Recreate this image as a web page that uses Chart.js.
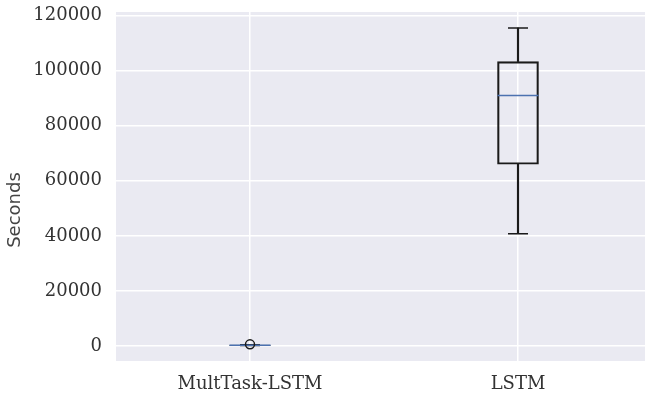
<!DOCTYPE html>
<html>
<head>
<meta charset="utf-8">
<script src="https://cdn.jsdelivr.net/npm/chart.js@4/dist/chart.umd.min.js"></script>
<style>
  html, body { margin: 0; padding: 0; background: #ffffff; overflow: hidden; }
  #c { display: block; }
</style>
</head>
<body>
<canvas id="c" width="652" height="399"></canvas>
<script>
// ---- data ----
const categories = ['MultTask-LSTM', 'LSTM'];
const whiskerLow  = [150, 40800];
const q1          = [200, 66000];
const median      = [260, 91000];
const q3          = [330, 103300];
const whiskerHigh = [420, 115500];
const outlierCats   = ['MultTask-LSTM'];
const outlierValues = [600];
const yTicks = [0, 20000, 40000, 60000, 80000, 100000, 120000];
const yTitle = 'Seconds';

const BOX_W = 41, CAP_R = 10;

const bgPlugin = {
  id: 'plotBg',
  beforeDraw(chart) {
    const a = chart.chartArea, ctx = chart.ctx;
    ctx.save();
    ctx.fillStyle = '#EAEAF2';
    ctx.fillRect(a.left, a.top, a.right - a.left, a.bottom - a.top);
    ctx.restore();
  }
};

// y-axis title, placed slightly below the axis centre as in the reference
const yTitlePlugin = {
  id: 'yTitle',
  afterDraw(chart) {
    const ctx = chart.ctx;
    ctx.save();
    ctx.translate(15, 210);
    ctx.rotate(-Math.PI / 2);
    ctx.font = '18px "DejaVu Sans"';
    ctx.fillStyle = '#444444';
    ctx.textAlign = 'center';
    ctx.textBaseline = 'middle';
    ctx.fillText(yTitle, 0, 0);
    ctx.restore();
  }
};

const mk = (vals) => categories.map((c, i) => ({ x: c, y: vals[i] }));

const datasets = [
  { type: 'bar', label: 'box', data: categories.map((c, i) => [q1[i], q3[i]]),
    backgroundColor: 'rgba(0,0,0,0)', borderColor: '#1a1a1a', borderWidth: 1.5,
    borderSkipped: false, barThickness: BOX_W, grouped: false, order: 3 },
  { type: 'bar', label: 'upper whisker', data: categories.map((c, i) => [q3[i], whiskerHigh[i]]),
    backgroundColor: '#1a1a1a', borderWidth: 0, barThickness: 1.5, grouped: false, order: 4 },
  { type: 'bar', label: 'lower whisker', data: categories.map((c, i) => [whiskerLow[i], q1[i]]),
    backgroundColor: '#1a1a1a', borderWidth: 0, barThickness: 1.5, grouped: false, order: 4 },
  { type: 'line', label: 'caps high', data: mk(whiskerHigh), showLine: false,
    pointStyle: 'line', pointRadius: CAP_R, pointBorderWidth: 1.5, borderColor: '#1a1a1a', order: 2 },
  { type: 'line', label: 'caps low', data: mk(whiskerLow), showLine: false,
    pointStyle: 'line', pointRadius: CAP_R, pointBorderWidth: 1.5, borderColor: '#1a1a1a', order: 2 },
  { type: 'line', label: 'median', data: mk(median), showLine: false,
    pointStyle: 'line', pointRadius: BOX_W / 2, pointBorderWidth: 1.5, borderColor: '#4C72B0', order: 1 },
  { type: 'line', label: 'outliers', data: outlierCats.map((c, i) => ({ x: c, y: outlierValues[i] })),
    showLine: false, pointStyle: 'circle', pointRadius: 4.5, pointBorderWidth: 1.5,
    borderColor: '#1a1a1a', backgroundColor: 'rgba(0,0,0,0)', order: 0 }
];

new Chart(document.getElementById('c'), {
  data: { labels: categories, datasets },
  plugins: [bgPlugin, yTitlePlugin],
  options: {
    responsive: false,
    animation: false,
    layout: { autoPadding: false, padding: 0 },
    plugins: { legend: { display: false }, tooltip: { enabled: false } },
    scales: {
      x: {
        type: 'category',
        offset: true,
        grid: { offset: false, color: '#ffffff', lineWidth: 1.5, drawTicks: false },
        border: { display: false },
        ticks: { color: '#333333', padding: 13, font: { family: 'DejaVu Serif', size: 18 } },
        afterFit(s) { s.height = 38; s.paddingLeft = 0; s.paddingRight = 0; }
      },
      y: {
        min: -5450, max: 121300,
        grid: { color: '#ffffff', lineWidth: 1.5, drawTicks: false },
        border: { display: false },
        afterBuildTicks(s) { s.ticks = yTicks.map(v => ({ value: v })); },
        ticks: { color: '#333333', padding: 14, font: { family: 'DejaVu Serif', size: 18 },
                 callback: (v) => String(v) },
        title: { display: false },
        afterFit(s) { s.width = 116; s.paddingTop = 12; s.paddingBottom = 0; }
      }
    }
  }
});
</script>
</body>
</html>
